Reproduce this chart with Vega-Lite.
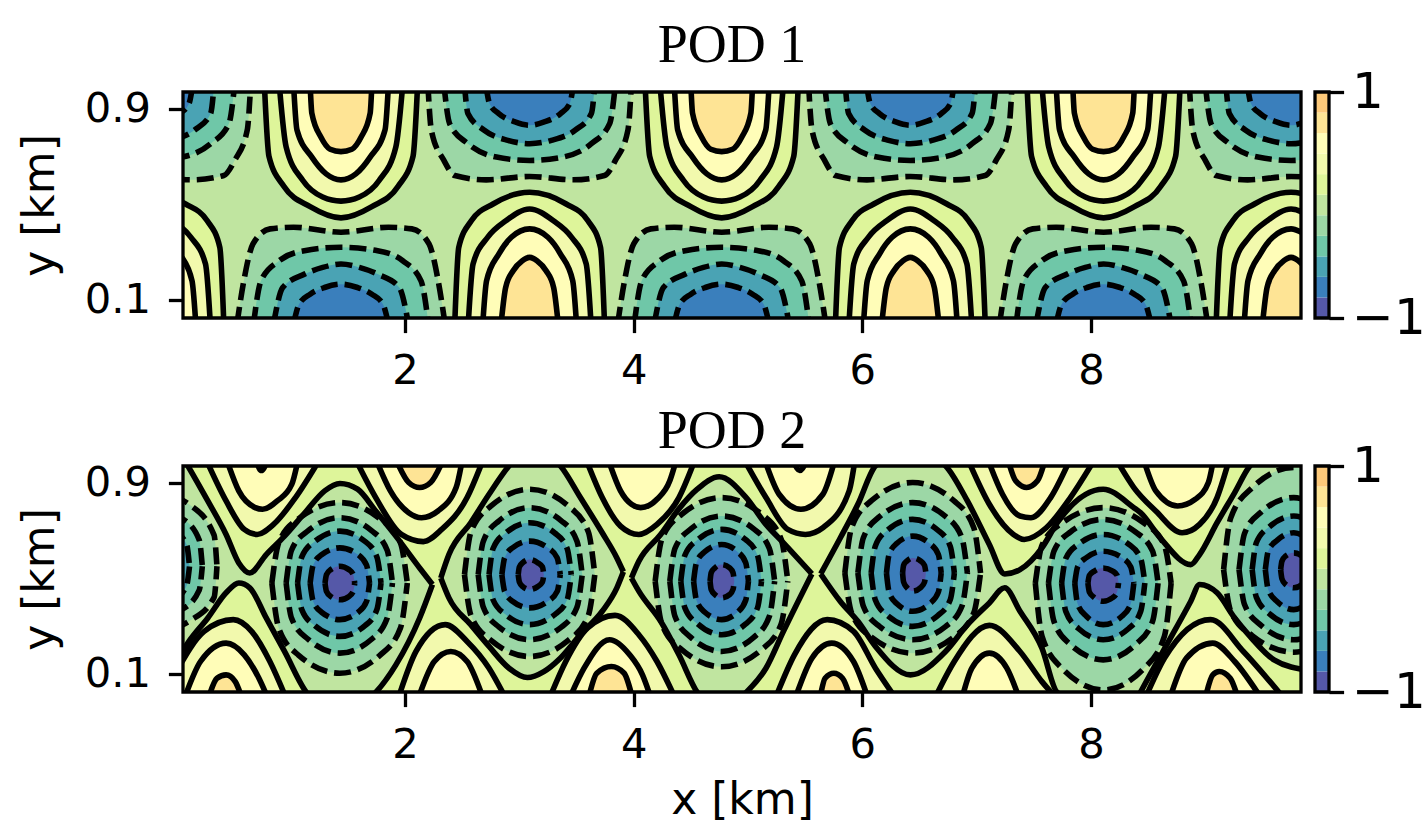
{"$schema":"https://vega.github.io/schema/vega-lite/v6.json","padding":{"left":18,"top":18,"right":0,"bottom":0},"background":"white",
"config":{"axis":{"labelFont":"DejaVu Sans","labelFontSize":41.67,"titleFont":"DejaVu Sans","titleFontSize":44,"titleFontWeight":"normal","tickSize":14.6,"tickWidth":3.3,"tickColor":"#000","labelColor":"#000","titleColor":"#000","domain":false,"grid":false,"labelPadding":18,"labelOverlap":false,"labelFlush":false},"title":{"font":"Liberation Serif","fontSize":54,"fontWeight":"normal","color":"#000"},"view":{"stroke":null}},
"datasets":{"bar":[{"v":0,"a":-1,"b":-0.818},{"v":1,"a":-0.818,"b":-0.636},{"v":2,"a":-0.636,"b":-0.455},{"v":3,"a":-0.455,"b":-0.273},{"v":4,"a":-0.273,"b":-0.091},{"v":5,"a":-0.091,"b":0.091},{"v":6,"a":0.091,"b":0.273},{"v":7,"a":0.273,"b":0.455},{"v":8,"a":0.455,"b":0.636},{"v":9,"a":0.636,"b":0.818},{"v":10,"a":0.818,"b":1}],
"limits":[{"a":0.058,"b":9.837,"c":0.0246,"d":0.969}],
"top":[
{"i":"a6","v":6,"x":0.77,"y":1,"z":1},{"i":"a6","v":6,"x":0.81,"y":0.7,"z":1},{"i":"a6","v":6,"x":0.94,"y":0.575,"z":1},{"i":"a6","v":6,"x":1.17,"y":0.49,"z":1},{"i":"a6","v":6,"x":1.44,"y":0.443,"z":1},{"i":"a6","v":6,"x":1.71,"y":0.49,"z":1},{"i":"a6","v":6,"x":1.94,"y":0.575,"z":1},{"i":"a6","v":6,"x":2.07,"y":0.7,"z":1},{"i":"a6","v":6,"x":2.11,"y":1,"z":1},
{"i":"a7","v":7,"x":0.9,"y":1,"z":1},{"i":"a7","v":7,"x":0.96,"y":0.74,"z":1},{"i":"a7","v":7,"x":1.105,"y":0.6,"z":1},{"i":"a7","v":7,"x":1.28,"y":0.53,"z":1},{"i":"a7","v":7,"x":1.44,"y":0.513,"z":1},{"i":"a7","v":7,"x":1.6,"y":0.53,"z":1},{"i":"a7","v":7,"x":1.775,"y":0.6,"z":1},{"i":"a7","v":7,"x":1.92,"y":0.74,"z":1},{"i":"a7","v":7,"x":1.98,"y":1,"z":1},
{"i":"a8","v":8,"x":1.025,"y":1,"z":1},{"i":"a8","v":8,"x":1.055,"y":0.81,"z":1},{"i":"a8","v":8,"x":1.185,"y":0.697,"z":1},{"i":"a8","v":8,"x":1.31,"y":0.627,"z":1},{"i":"a8","v":8,"x":1.44,"y":0.602,"z":1},{"i":"a8","v":8,"x":1.57,"y":0.627,"z":1},{"i":"a8","v":8,"x":1.695,"y":0.697,"z":1},{"i":"a8","v":8,"x":1.825,"y":0.81,"z":1},{"i":"a8","v":8,"x":1.855,"y":1,"z":1},
{"i":"a9","v":9,"x":1.17,"y":1,"z":1},{"i":"a9","v":9,"x":1.185,"y":0.88,"z":1},{"i":"a9","v":9,"x":1.265,"y":0.78,"z":1},{"i":"a9","v":9,"x":1.345,"y":0.73,"z":1},{"i":"a9","v":9,"x":1.44,"y":0.72,"z":1},{"i":"a9","v":9,"x":1.535,"y":0.73,"z":1},{"i":"a9","v":9,"x":1.615,"y":0.78,"z":1},{"i":"a9","v":9,"x":1.695,"y":0.88,"z":1},{"i":"a9","v":9,"x":1.71,"y":1,"z":1},
{"i":"b6","v":6,"x":4.1,"y":1,"z":1},{"i":"b6","v":6,"x":4.14,"y":0.7,"z":1},{"i":"b6","v":6,"x":4.27,"y":0.575,"z":1},{"i":"b6","v":6,"x":4.5,"y":0.49,"z":1},{"i":"b6","v":6,"x":4.77,"y":0.443,"z":1},{"i":"b6","v":6,"x":5.04,"y":0.49,"z":1},{"i":"b6","v":6,"x":5.27,"y":0.575,"z":1},{"i":"b6","v":6,"x":5.4,"y":0.7,"z":1},{"i":"b6","v":6,"x":5.44,"y":1,"z":1},
{"i":"b7","v":7,"x":4.23,"y":1,"z":1},{"i":"b7","v":7,"x":4.29,"y":0.74,"z":1},{"i":"b7","v":7,"x":4.435,"y":0.6,"z":1},{"i":"b7","v":7,"x":4.61,"y":0.53,"z":1},{"i":"b7","v":7,"x":4.77,"y":0.513,"z":1},{"i":"b7","v":7,"x":4.93,"y":0.53,"z":1},{"i":"b7","v":7,"x":5.105,"y":0.6,"z":1},{"i":"b7","v":7,"x":5.25,"y":0.74,"z":1},{"i":"b7","v":7,"x":5.31,"y":1,"z":1},
{"i":"b8","v":8,"x":4.355,"y":1,"z":1},{"i":"b8","v":8,"x":4.385,"y":0.81,"z":1},{"i":"b8","v":8,"x":4.515,"y":0.697,"z":1},{"i":"b8","v":8,"x":4.64,"y":0.627,"z":1},{"i":"b8","v":8,"x":4.77,"y":0.602,"z":1},{"i":"b8","v":8,"x":4.9,"y":0.627,"z":1},{"i":"b8","v":8,"x":5.025,"y":0.697,"z":1},{"i":"b8","v":8,"x":5.155,"y":0.81,"z":1},{"i":"b8","v":8,"x":5.185,"y":1,"z":1},
{"i":"b9","v":9,"x":4.5,"y":1,"z":1},{"i":"b9","v":9,"x":4.515,"y":0.88,"z":1},{"i":"b9","v":9,"x":4.595,"y":0.78,"z":1},{"i":"b9","v":9,"x":4.675,"y":0.73,"z":1},{"i":"b9","v":9,"x":4.77,"y":0.72,"z":1},{"i":"b9","v":9,"x":4.865,"y":0.73,"z":1},{"i":"b9","v":9,"x":4.945,"y":0.78,"z":1},{"i":"b9","v":9,"x":5.025,"y":0.88,"z":1},{"i":"b9","v":9,"x":5.04,"y":1,"z":1},
{"i":"c6","v":6,"x":7.44,"y":1,"z":1},{"i":"c6","v":6,"x":7.48,"y":0.7,"z":1},{"i":"c6","v":6,"x":7.61,"y":0.575,"z":1},{"i":"c6","v":6,"x":7.84,"y":0.49,"z":1},{"i":"c6","v":6,"x":8.11,"y":0.443,"z":1},{"i":"c6","v":6,"x":8.38,"y":0.49,"z":1},{"i":"c6","v":6,"x":8.61,"y":0.575,"z":1},{"i":"c6","v":6,"x":8.74,"y":0.7,"z":1},{"i":"c6","v":6,"x":8.78,"y":1,"z":1},
{"i":"c7","v":7,"x":7.57,"y":1,"z":1},{"i":"c7","v":7,"x":7.63,"y":0.74,"z":1},{"i":"c7","v":7,"x":7.775,"y":0.6,"z":1},{"i":"c7","v":7,"x":7.95,"y":0.53,"z":1},{"i":"c7","v":7,"x":8.11,"y":0.513,"z":1},{"i":"c7","v":7,"x":8.27,"y":0.53,"z":1},{"i":"c7","v":7,"x":8.445,"y":0.6,"z":1},{"i":"c7","v":7,"x":8.59,"y":0.74,"z":1},{"i":"c7","v":7,"x":8.65,"y":1,"z":1},
{"i":"c8","v":8,"x":7.695,"y":1,"z":1},{"i":"c8","v":8,"x":7.725,"y":0.81,"z":1},{"i":"c8","v":8,"x":7.855,"y":0.697,"z":1},{"i":"c8","v":8,"x":7.98,"y":0.627,"z":1},{"i":"c8","v":8,"x":8.11,"y":0.602,"z":1},{"i":"c8","v":8,"x":8.24,"y":0.627,"z":1},{"i":"c8","v":8,"x":8.365,"y":0.697,"z":1},{"i":"c8","v":8,"x":8.495,"y":0.81,"z":1},{"i":"c8","v":8,"x":8.525,"y":1,"z":1},
{"i":"c9","v":9,"x":7.84,"y":1,"z":1},{"i":"c9","v":9,"x":7.855,"y":0.88,"z":1},{"i":"c9","v":9,"x":7.935,"y":0.78,"z":1},{"i":"c9","v":9,"x":8.015,"y":0.73,"z":1},{"i":"c9","v":9,"x":8.11,"y":0.72,"z":1},{"i":"c9","v":9,"x":8.205,"y":0.73,"z":1},{"i":"c9","v":9,"x":8.285,"y":0.78,"z":1},{"i":"c9","v":9,"x":8.365,"y":0.88,"z":1},{"i":"c9","v":9,"x":8.38,"y":1,"z":1},
{"i":"d4","v":4,"x":-0.24,"y":0.616,"z":1},{"i":"d4","v":4,"x":0.14,"y":0.602,"z":1},{"i":"d4","v":4,"x":0.415,"y":0.62,"z":1},{"i":"d4","v":4,"x":0.51,"y":0.683,"z":1},{"i":"d4","v":4,"x":0.62,"y":0.81,"z":1},{"i":"d4","v":4,"x":0.65,"y":1,"z":1},
{"i":"d3","v":3,"x":-0.24,"y":0.683,"z":1},{"i":"d3","v":3,"x":0.05,"y":0.697,"z":1},{"i":"d3","v":3,"x":0.3,"y":0.753,"z":1},{"i":"d3","v":3,"x":0.46,"y":0.837,"z":1},{"i":"d3","v":3,"x":0.51,"y":1,"z":1},
{"i":"d2","v":2,"x":-0.24,"y":0.753,"z":1},{"i":"d2","v":2,"x":-0.05,"y":0.767,"z":1},{"i":"d2","v":2,"x":0.16,"y":0.81,"z":1},{"i":"d2","v":2,"x":0.3,"y":0.879,"z":1},{"i":"d2","v":2,"x":0.33,"y":1,"z":1},
{"i":"d1","v":1,"x":-0.24,"y":0.83,"z":1},{"i":"d1","v":1,"x":-0.112,"y":0.844,"z":1},{"i":"d1","v":1,"x":0.03,"y":0.879,"z":1},{"i":"d1","v":1,"x":0.111,"y":0.921,"z":1},{"i":"d1","v":1,"x":0.143,"y":1,"z":1},
{"i":"e4","v":4,"x":2.2,"y":1,"z":1},{"i":"e4","v":4,"x":2.23,"y":0.81,"z":1},{"i":"e4","v":4,"x":2.34,"y":0.683,"z":1},{"i":"e4","v":4,"x":2.435,"y":0.62,"z":1},{"i":"e4","v":4,"x":2.71,"y":0.602,"z":1},{"i":"e4","v":4,"x":3.09,"y":0.616,"z":1},{"i":"e4","v":4,"x":3.47,"y":0.602,"z":1},{"i":"e4","v":4,"x":3.745,"y":0.62,"z":1},{"i":"e4","v":4,"x":3.84,"y":0.683,"z":1},{"i":"e4","v":4,"x":3.95,"y":0.81,"z":1},{"i":"e4","v":4,"x":3.98,"y":1,"z":1},
{"i":"e3","v":3,"x":2.34,"y":1,"z":1},{"i":"e3","v":3,"x":2.39,"y":0.837,"z":1},{"i":"e3","v":3,"x":2.55,"y":0.753,"z":1},{"i":"e3","v":3,"x":2.8,"y":0.697,"z":1},{"i":"e3","v":3,"x":3.09,"y":0.683,"z":1},{"i":"e3","v":3,"x":3.38,"y":0.697,"z":1},{"i":"e3","v":3,"x":3.63,"y":0.753,"z":1},{"i":"e3","v":3,"x":3.79,"y":0.837,"z":1},{"i":"e3","v":3,"x":3.84,"y":1,"z":1},
{"i":"e2","v":2,"x":2.52,"y":1,"z":1},{"i":"e2","v":2,"x":2.55,"y":0.879,"z":1},{"i":"e2","v":2,"x":2.69,"y":0.81,"z":1},{"i":"e2","v":2,"x":2.9,"y":0.767,"z":1},{"i":"e2","v":2,"x":3.09,"y":0.753,"z":1},{"i":"e2","v":2,"x":3.28,"y":0.767,"z":1},{"i":"e2","v":2,"x":3.49,"y":0.81,"z":1},{"i":"e2","v":2,"x":3.63,"y":0.879,"z":1},{"i":"e2","v":2,"x":3.66,"y":1,"z":1},
{"i":"e1","v":1,"x":2.707,"y":1,"z":1},{"i":"e1","v":1,"x":2.739,"y":0.921,"z":1},{"i":"e1","v":1,"x":2.82,"y":0.879,"z":1},{"i":"e1","v":1,"x":2.962,"y":0.844,"z":1},{"i":"e1","v":1,"x":3.09,"y":0.83,"z":1},{"i":"e1","v":1,"x":3.218,"y":0.844,"z":1},{"i":"e1","v":1,"x":3.36,"y":0.879,"z":1},{"i":"e1","v":1,"x":3.441,"y":0.921,"z":1},{"i":"e1","v":1,"x":3.473,"y":1,"z":1},
{"i":"f4","v":4,"x":5.53,"y":1,"z":1},{"i":"f4","v":4,"x":5.56,"y":0.81,"z":1},{"i":"f4","v":4,"x":5.67,"y":0.683,"z":1},{"i":"f4","v":4,"x":5.765,"y":0.62,"z":1},{"i":"f4","v":4,"x":6.04,"y":0.602,"z":1},{"i":"f4","v":4,"x":6.42,"y":0.616,"z":1},{"i":"f4","v":4,"x":6.8,"y":0.602,"z":1},{"i":"f4","v":4,"x":7.075,"y":0.62,"z":1},{"i":"f4","v":4,"x":7.17,"y":0.683,"z":1},{"i":"f4","v":4,"x":7.28,"y":0.81,"z":1},{"i":"f4","v":4,"x":7.31,"y":1,"z":1},
{"i":"f3","v":3,"x":5.67,"y":1,"z":1},{"i":"f3","v":3,"x":5.72,"y":0.837,"z":1},{"i":"f3","v":3,"x":5.88,"y":0.753,"z":1},{"i":"f3","v":3,"x":6.13,"y":0.697,"z":1},{"i":"f3","v":3,"x":6.42,"y":0.683,"z":1},{"i":"f3","v":3,"x":6.71,"y":0.697,"z":1},{"i":"f3","v":3,"x":6.96,"y":0.753,"z":1},{"i":"f3","v":3,"x":7.12,"y":0.837,"z":1},{"i":"f3","v":3,"x":7.17,"y":1,"z":1},
{"i":"f2","v":2,"x":5.85,"y":1,"z":1},{"i":"f2","v":2,"x":5.88,"y":0.879,"z":1},{"i":"f2","v":2,"x":6.02,"y":0.81,"z":1},{"i":"f2","v":2,"x":6.23,"y":0.767,"z":1},{"i":"f2","v":2,"x":6.42,"y":0.753,"z":1},{"i":"f2","v":2,"x":6.61,"y":0.767,"z":1},{"i":"f2","v":2,"x":6.82,"y":0.81,"z":1},{"i":"f2","v":2,"x":6.96,"y":0.879,"z":1},{"i":"f2","v":2,"x":6.99,"y":1,"z":1},
{"i":"f1","v":1,"x":6.037,"y":1,"z":1},{"i":"f1","v":1,"x":6.069,"y":0.921,"z":1},{"i":"f1","v":1,"x":6.15,"y":0.879,"z":1},{"i":"f1","v":1,"x":6.292,"y":0.844,"z":1},{"i":"f1","v":1,"x":6.42,"y":0.83,"z":1},{"i":"f1","v":1,"x":6.548,"y":0.844,"z":1},{"i":"f1","v":1,"x":6.69,"y":0.879,"z":1},{"i":"f1","v":1,"x":6.771,"y":0.921,"z":1},{"i":"f1","v":1,"x":6.803,"y":1,"z":1},
{"i":"g4","v":4,"x":8.86,"y":1,"z":1},{"i":"g4","v":4,"x":8.89,"y":0.81,"z":1},{"i":"g4","v":4,"x":9,"y":0.683,"z":1},{"i":"g4","v":4,"x":9.095,"y":0.62,"z":1},{"i":"g4","v":4,"x":9.37,"y":0.602,"z":1},{"i":"g4","v":4,"x":9.75,"y":0.616,"z":1},{"i":"g4","v":4,"x":10.13,"y":0.602,"z":1},
{"i":"g3","v":3,"x":9,"y":1,"z":1},{"i":"g3","v":3,"x":9.05,"y":0.837,"z":1},{"i":"g3","v":3,"x":9.21,"y":0.753,"z":1},{"i":"g3","v":3,"x":9.46,"y":0.697,"z":1},{"i":"g3","v":3,"x":9.75,"y":0.683,"z":1},{"i":"g3","v":3,"x":10.04,"y":0.697,"z":1},
{"i":"g2","v":2,"x":9.18,"y":1,"z":1},{"i":"g2","v":2,"x":9.21,"y":0.879,"z":1},{"i":"g2","v":2,"x":9.35,"y":0.81,"z":1},{"i":"g2","v":2,"x":9.56,"y":0.767,"z":1},{"i":"g2","v":2,"x":9.75,"y":0.753,"z":1},{"i":"g2","v":2,"x":9.94,"y":0.767,"z":1},
{"i":"g1","v":1,"x":9.367,"y":1,"z":1},{"i":"g1","v":1,"x":9.399,"y":0.921,"z":1},{"i":"g1","v":1,"x":9.48,"y":0.879,"z":1},{"i":"g1","v":1,"x":9.622,"y":0.844,"z":1},{"i":"g1","v":1,"x":9.75,"y":0.83,"z":1},{"i":"g1","v":1,"x":9.878,"y":0.844,"z":1},
{"i":"h6","v":6,"x":-0.24,"y":0.55,"z":0},{"i":"h6","v":6,"x":0.08,"y":0.501,"z":0},{"i":"h6","v":6,"x":0.27,"y":0.431,"z":0},{"i":"h6","v":6,"x":0.38,"y":0.32,"z":0},{"i":"h6","v":6,"x":0.415,"y":0,"z":0},
{"i":"h7","v":7,"x":-0.24,"y":0.48,"z":0},{"i":"h7","v":7,"x":-0.032,"y":0.431,"z":0},{"i":"h7","v":7,"x":0.127,"y":0.362,"z":0},{"i":"h7","v":7,"x":0.255,"y":0.25,"z":0},{"i":"h7","v":7,"x":0.297,"y":0,"z":0},
{"i":"h8","v":8,"x":-0.24,"y":0.397,"z":0},{"i":"h8","v":8,"x":-0.08,"y":0.362,"z":0},{"i":"h8","v":8,"x":0.03,"y":0.292,"z":0},{"i":"h8","v":8,"x":0.137,"y":0.18,"z":0},{"i":"h8","v":8,"x":0.17,"y":0,"z":0},
{"i":"k6","v":6,"x":2.435,"y":0,"z":0},{"i":"k6","v":6,"x":2.47,"y":0.32,"z":0},{"i":"k6","v":6,"x":2.58,"y":0.431,"z":0},{"i":"k6","v":6,"x":2.77,"y":0.501,"z":0},{"i":"k6","v":6,"x":3.09,"y":0.55,"z":0},{"i":"k6","v":6,"x":3.41,"y":0.501,"z":0},{"i":"k6","v":6,"x":3.6,"y":0.431,"z":0},{"i":"k6","v":6,"x":3.71,"y":0.32,"z":0},{"i":"k6","v":6,"x":3.745,"y":0,"z":0},
{"i":"k7","v":7,"x":2.553,"y":0,"z":0},{"i":"k7","v":7,"x":2.595,"y":0.25,"z":0},{"i":"k7","v":7,"x":2.723,"y":0.362,"z":0},{"i":"k7","v":7,"x":2.882,"y":0.431,"z":0},{"i":"k7","v":7,"x":3.09,"y":0.48,"z":0},{"i":"k7","v":7,"x":3.298,"y":0.431,"z":0},{"i":"k7","v":7,"x":3.457,"y":0.362,"z":0},{"i":"k7","v":7,"x":3.585,"y":0.25,"z":0},{"i":"k7","v":7,"x":3.627,"y":0,"z":0},
{"i":"k8","v":8,"x":2.68,"y":0,"z":0},{"i":"k8","v":8,"x":2.713,"y":0.18,"z":0},{"i":"k8","v":8,"x":2.82,"y":0.292,"z":0},{"i":"k8","v":8,"x":2.93,"y":0.362,"z":0},{"i":"k8","v":8,"x":3.09,"y":0.397,"z":0},{"i":"k8","v":8,"x":3.25,"y":0.362,"z":0},{"i":"k8","v":8,"x":3.36,"y":0.292,"z":0},{"i":"k8","v":8,"x":3.467,"y":0.18,"z":0},{"i":"k8","v":8,"x":3.5,"y":0,"z":0},
{"i":"k9","v":9,"x":2.84,"y":0,"z":0},{"i":"k9","v":9,"x":2.88,"y":0.152,"z":0},{"i":"k9","v":9,"x":2.946,"y":0.222,"z":0},{"i":"k9","v":9,"x":3.026,"y":0.264,"z":0},{"i":"k9","v":9,"x":3.09,"y":0.278,"z":0},{"i":"k9","v":9,"x":3.154,"y":0.264,"z":0},{"i":"k9","v":9,"x":3.234,"y":0.222,"z":0},{"i":"k9","v":9,"x":3.3,"y":0.152,"z":0},{"i":"k9","v":9,"x":3.34,"y":0,"z":0},
{"i":"m6","v":6,"x":5.765,"y":0,"z":0},{"i":"m6","v":6,"x":5.8,"y":0.32,"z":0},{"i":"m6","v":6,"x":5.91,"y":0.431,"z":0},{"i":"m6","v":6,"x":6.1,"y":0.501,"z":0},{"i":"m6","v":6,"x":6.42,"y":0.55,"z":0},{"i":"m6","v":6,"x":6.74,"y":0.501,"z":0},{"i":"m6","v":6,"x":6.93,"y":0.431,"z":0},{"i":"m6","v":6,"x":7.04,"y":0.32,"z":0},{"i":"m6","v":6,"x":7.075,"y":0,"z":0},
{"i":"m7","v":7,"x":5.883,"y":0,"z":0},{"i":"m7","v":7,"x":5.925,"y":0.25,"z":0},{"i":"m7","v":7,"x":6.053,"y":0.362,"z":0},{"i":"m7","v":7,"x":6.212,"y":0.431,"z":0},{"i":"m7","v":7,"x":6.42,"y":0.48,"z":0},{"i":"m7","v":7,"x":6.628,"y":0.431,"z":0},{"i":"m7","v":7,"x":6.787,"y":0.362,"z":0},{"i":"m7","v":7,"x":6.915,"y":0.25,"z":0},{"i":"m7","v":7,"x":6.957,"y":0,"z":0},
{"i":"m8","v":8,"x":6.01,"y":0,"z":0},{"i":"m8","v":8,"x":6.043,"y":0.18,"z":0},{"i":"m8","v":8,"x":6.15,"y":0.292,"z":0},{"i":"m8","v":8,"x":6.26,"y":0.362,"z":0},{"i":"m8","v":8,"x":6.42,"y":0.397,"z":0},{"i":"m8","v":8,"x":6.58,"y":0.362,"z":0},{"i":"m8","v":8,"x":6.69,"y":0.292,"z":0},{"i":"m8","v":8,"x":6.797,"y":0.18,"z":0},{"i":"m8","v":8,"x":6.83,"y":0,"z":0},
{"i":"m9","v":9,"x":6.17,"y":0,"z":0},{"i":"m9","v":9,"x":6.21,"y":0.152,"z":0},{"i":"m9","v":9,"x":6.276,"y":0.222,"z":0},{"i":"m9","v":9,"x":6.356,"y":0.264,"z":0},{"i":"m9","v":9,"x":6.42,"y":0.278,"z":0},{"i":"m9","v":9,"x":6.484,"y":0.264,"z":0},{"i":"m9","v":9,"x":6.564,"y":0.222,"z":0},{"i":"m9","v":9,"x":6.63,"y":0.152,"z":0},{"i":"m9","v":9,"x":6.67,"y":0,"z":0},
{"i":"n6","v":6,"x":9.095,"y":0,"z":0},{"i":"n6","v":6,"x":9.13,"y":0.32,"z":0},{"i":"n6","v":6,"x":9.24,"y":0.431,"z":0},{"i":"n6","v":6,"x":9.43,"y":0.501,"z":0},{"i":"n6","v":6,"x":9.75,"y":0.55,"z":0},{"i":"n6","v":6,"x":10.07,"y":0.501,"z":0},
{"i":"n7","v":7,"x":9.213,"y":0,"z":0},{"i":"n7","v":7,"x":9.255,"y":0.25,"z":0},{"i":"n7","v":7,"x":9.383,"y":0.362,"z":0},{"i":"n7","v":7,"x":9.542,"y":0.431,"z":0},{"i":"n7","v":7,"x":9.75,"y":0.48,"z":0},{"i":"n7","v":7,"x":9.958,"y":0.431,"z":0},
{"i":"n8","v":8,"x":9.34,"y":0,"z":0},{"i":"n8","v":8,"x":9.373,"y":0.18,"z":0},{"i":"n8","v":8,"x":9.48,"y":0.292,"z":0},{"i":"n8","v":8,"x":9.59,"y":0.362,"z":0},{"i":"n8","v":8,"x":9.75,"y":0.397,"z":0},{"i":"n8","v":8,"x":9.91,"y":0.362,"z":0},
{"i":"n9","v":9,"x":9.5,"y":0,"z":0},{"i":"n9","v":9,"x":9.54,"y":0.152,"z":0},{"i":"n9","v":9,"x":9.606,"y":0.222,"z":0},{"i":"n9","v":9,"x":9.686,"y":0.264,"z":0},{"i":"n9","v":9,"x":9.75,"y":0.278,"z":0},{"i":"n9","v":9,"x":9.814,"y":0.264,"z":0},{"i":"n9","v":9,"x":9.894,"y":0.222,"z":0},
{"i":"p4","v":4,"x":0.53,"y":0,"z":0},{"i":"p4","v":4,"x":0.59,"y":0.18,"z":0},{"i":"p4","v":4,"x":0.67,"y":0.334,"z":0},{"i":"p4","v":4,"x":0.82,"y":0.397,"z":0},{"i":"p4","v":4,"x":1.025,"y":0.404,"z":0},{"i":"p4","v":4,"x":1.44,"y":0.383,"z":0},{"i":"p4","v":4,"x":1.855,"y":0.404,"z":0},{"i":"p4","v":4,"x":2.06,"y":0.397,"z":0},{"i":"p4","v":4,"x":2.21,"y":0.334,"z":0},{"i":"p4","v":4,"x":2.29,"y":0.18,"z":0},{"i":"p4","v":4,"x":2.35,"y":0,"z":0},
{"i":"p3","v":3,"x":0.675,"y":0,"z":0},{"i":"p3","v":3,"x":0.74,"y":0.18,"z":0},{"i":"p3","v":3,"x":0.9,"y":0.264,"z":0},{"i":"p3","v":3,"x":1.12,"y":0.306,"z":0},{"i":"p3","v":3,"x":1.44,"y":0.32,"z":0},{"i":"p3","v":3,"x":1.76,"y":0.306,"z":0},{"i":"p3","v":3,"x":1.98,"y":0.264,"z":0},{"i":"p3","v":3,"x":2.14,"y":0.18,"z":0},{"i":"p3","v":3,"x":2.205,"y":0,"z":0},
{"i":"p2","v":2,"x":0.85,"y":0,"z":0},{"i":"p2","v":2,"x":0.93,"y":0.152,"z":0},{"i":"p2","v":2,"x":1.12,"y":0.208,"z":0},{"i":"p2","v":2,"x":1.28,"y":0.236,"z":0},{"i":"p2","v":2,"x":1.44,"y":0.25,"z":0},{"i":"p2","v":2,"x":1.6,"y":0.236,"z":0},{"i":"p2","v":2,"x":1.76,"y":0.208,"z":0},{"i":"p2","v":2,"x":1.95,"y":0.152,"z":0},{"i":"p2","v":2,"x":2.03,"y":0,"z":0},
{"i":"p1","v":1,"x":1.025,"y":0,"z":0},{"i":"p1","v":1,"x":1.073,"y":0.082,"z":0},{"i":"p1","v":1,"x":1.17,"y":0.124,"z":0},{"i":"p1","v":1,"x":1.296,"y":0.152,"z":0},{"i":"p1","v":1,"x":1.44,"y":0.166,"z":0},{"i":"p1","v":1,"x":1.584,"y":0.152,"z":0},{"i":"p1","v":1,"x":1.71,"y":0.124,"z":0},{"i":"p1","v":1,"x":1.807,"y":0.082,"z":0},{"i":"p1","v":1,"x":1.855,"y":0,"z":0},
{"i":"q4","v":4,"x":3.86,"y":0,"z":0},{"i":"q4","v":4,"x":3.92,"y":0.18,"z":0},{"i":"q4","v":4,"x":4,"y":0.334,"z":0},{"i":"q4","v":4,"x":4.15,"y":0.397,"z":0},{"i":"q4","v":4,"x":4.355,"y":0.404,"z":0},{"i":"q4","v":4,"x":4.77,"y":0.383,"z":0},{"i":"q4","v":4,"x":5.185,"y":0.404,"z":0},{"i":"q4","v":4,"x":5.39,"y":0.397,"z":0},{"i":"q4","v":4,"x":5.54,"y":0.334,"z":0},{"i":"q4","v":4,"x":5.62,"y":0.18,"z":0},{"i":"q4","v":4,"x":5.68,"y":0,"z":0},
{"i":"q3","v":3,"x":4.005,"y":0,"z":0},{"i":"q3","v":3,"x":4.07,"y":0.18,"z":0},{"i":"q3","v":3,"x":4.23,"y":0.264,"z":0},{"i":"q3","v":3,"x":4.45,"y":0.306,"z":0},{"i":"q3","v":3,"x":4.77,"y":0.32,"z":0},{"i":"q3","v":3,"x":5.09,"y":0.306,"z":0},{"i":"q3","v":3,"x":5.31,"y":0.264,"z":0},{"i":"q3","v":3,"x":5.47,"y":0.18,"z":0},{"i":"q3","v":3,"x":5.535,"y":0,"z":0},
{"i":"q2","v":2,"x":4.18,"y":0,"z":0},{"i":"q2","v":2,"x":4.26,"y":0.152,"z":0},{"i":"q2","v":2,"x":4.45,"y":0.208,"z":0},{"i":"q2","v":2,"x":4.61,"y":0.236,"z":0},{"i":"q2","v":2,"x":4.77,"y":0.25,"z":0},{"i":"q2","v":2,"x":4.93,"y":0.236,"z":0},{"i":"q2","v":2,"x":5.09,"y":0.208,"z":0},{"i":"q2","v":2,"x":5.28,"y":0.152,"z":0},{"i":"q2","v":2,"x":5.36,"y":0,"z":0},
{"i":"q1","v":1,"x":4.355,"y":0,"z":0},{"i":"q1","v":1,"x":4.403,"y":0.082,"z":0},{"i":"q1","v":1,"x":4.5,"y":0.124,"z":0},{"i":"q1","v":1,"x":4.626,"y":0.152,"z":0},{"i":"q1","v":1,"x":4.77,"y":0.166,"z":0},{"i":"q1","v":1,"x":4.914,"y":0.152,"z":0},{"i":"q1","v":1,"x":5.04,"y":0.124,"z":0},{"i":"q1","v":1,"x":5.137,"y":0.082,"z":0},{"i":"q1","v":1,"x":5.185,"y":0,"z":0},
{"i":"r4","v":4,"x":7.2,"y":0,"z":0},{"i":"r4","v":4,"x":7.26,"y":0.18,"z":0},{"i":"r4","v":4,"x":7.34,"y":0.334,"z":0},{"i":"r4","v":4,"x":7.49,"y":0.397,"z":0},{"i":"r4","v":4,"x":7.695,"y":0.404,"z":0},{"i":"r4","v":4,"x":8.11,"y":0.383,"z":0},{"i":"r4","v":4,"x":8.525,"y":0.404,"z":0},{"i":"r4","v":4,"x":8.73,"y":0.397,"z":0},{"i":"r4","v":4,"x":8.88,"y":0.334,"z":0},{"i":"r4","v":4,"x":8.96,"y":0.18,"z":0},{"i":"r4","v":4,"x":9.02,"y":0,"z":0},
{"i":"r3","v":3,"x":7.345,"y":0,"z":0},{"i":"r3","v":3,"x":7.41,"y":0.18,"z":0},{"i":"r3","v":3,"x":7.57,"y":0.264,"z":0},{"i":"r3","v":3,"x":7.79,"y":0.306,"z":0},{"i":"r3","v":3,"x":8.11,"y":0.32,"z":0},{"i":"r3","v":3,"x":8.43,"y":0.306,"z":0},{"i":"r3","v":3,"x":8.65,"y":0.264,"z":0},{"i":"r3","v":3,"x":8.81,"y":0.18,"z":0},{"i":"r3","v":3,"x":8.875,"y":0,"z":0},
{"i":"r2","v":2,"x":7.52,"y":0,"z":0},{"i":"r2","v":2,"x":7.6,"y":0.152,"z":0},{"i":"r2","v":2,"x":7.79,"y":0.208,"z":0},{"i":"r2","v":2,"x":7.95,"y":0.236,"z":0},{"i":"r2","v":2,"x":8.11,"y":0.25,"z":0},{"i":"r2","v":2,"x":8.27,"y":0.236,"z":0},{"i":"r2","v":2,"x":8.43,"y":0.208,"z":0},{"i":"r2","v":2,"x":8.62,"y":0.152,"z":0},{"i":"r2","v":2,"x":8.7,"y":0,"z":0},
{"i":"r1","v":1,"x":7.695,"y":0,"z":0},{"i":"r1","v":1,"x":7.743,"y":0.082,"z":0},{"i":"r1","v":1,"x":7.84,"y":0.124,"z":0},{"i":"r1","v":1,"x":7.966,"y":0.152,"z":0},{"i":"r1","v":1,"x":8.11,"y":0.166,"z":0},{"i":"r1","v":1,"x":8.254,"y":0.152,"z":0},{"i":"r1","v":1,"x":8.38,"y":0.124,"z":0},{"i":"r1","v":1,"x":8.477,"y":0.082,"z":0},{"i":"r1","v":1,"x":8.525,"y":0,"z":0}
],
"bot":[
{"i":"gA","v":5,"x":0.0,"y":1.05,"z":0.15},{"i":"gA","v":5,"x":0.1,"y":0.97,"z":0.229},{"i":"gA","v":5,"x":0.275,"y":0.823,"z":0.334},{"i":"gA","v":5,"x":0.435,"y":0.683,"z":0.439},{"i":"gA","v":5,"x":0.546,"y":0.564,"z":0.48},{"i":"gA","v":5,"x":0.642,"y":0.522,"z":0.46},{"i":"gA","v":5,"x":0.786,"y":0.599,"z":0.334},{"i":"gA","v":5,"x":0.946,"y":0.676,"z":0.194},{"i":"gA","v":5,"x":1.137,"y":0.781,"z":0.023},{"i":"gA","v":5,"x":1.297,"y":0.865,"z":-0.04},{"i":"gA","v":5,"x":1.431,"y":0.896,"z":-0.07},{"i":"gA","v":5,"x":1.585,"y":0.872,"z":-0.04},{"i":"gA","v":5,"x":1.744,"y":0.781,"z":0.023},{"i":"gA","v":5,"x":1.92,"y":0.676,"z":0.138},{"i":"gA","v":5,"x":2.128,"y":0.543,"z":0.334},{"i":"gA","v":5,"x":2.24,"y":0.474,"z":0.474},
{"i":"gB","v":5,"x":2.313,"y":0.501,"z":0.501},{"i":"gB","v":5,"x":2.384,"y":0.599,"z":0.418},{"i":"gB","v":5,"x":2.575,"y":0.732,"z":0.306},{"i":"gB","v":5,"x":2.735,"y":0.851,"z":0.215},{"i":"gB","v":5,"x":2.91,"y":0.97,"z":0.124},{"i":"gB","v":5,"x":3.07,"y":1.047,"z":0.085},{"i":"gB","v":5,"x":3.214,"y":1.026,"z":0.11},{"i":"gB","v":5,"x":3.358,"y":0.97,"z":0.166},{"i":"gB","v":5,"x":3.534,"y":0.837,"z":0.264},{"i":"gB","v":5,"x":3.725,"y":0.69,"z":0.362},{"i":"gB","v":5,"x":3.853,"y":0.585,"z":0.46},{"i":"gB","v":5,"x":3.91,"y":0.527,"z":0.527},
{"i":"gC","v":5,"x":3.98,"y":0.501,"z":0.501},{"i":"gC","v":5,"x":4.045,"y":0.571,"z":0.446},{"i":"gC","v":5,"x":4.236,"y":0.683,"z":0.32},{"i":"gC","v":5,"x":4.396,"y":0.79,"z":0.18},{"i":"gC","v":5,"x":4.556,"y":0.872,"z":0.023},{"i":"gC","v":5,"x":4.748,"y":0.924,"z":-0.05},{"i":"gC","v":5,"x":4.984,"y":0.837,"z":0.023},{"i":"gC","v":5,"x":5.157,"y":0.725,"z":0.124},{"i":"gC","v":5,"x":5.31,"y":0.648,"z":0.278},{"i":"gC","v":5,"x":5.559,"y":0.518,"z":0.518},
{"i":"gD","v":5,"x":5.636,"y":0.518,"z":0.518},{"i":"gD","v":5,"x":5.808,"y":0.669,"z":0.403},{"i":"gD","v":5,"x":5.961,"y":0.809,"z":0.32},{"i":"gD","v":5,"x":6.115,"y":0.97,"z":0.215},{"i":"gD","v":5,"x":6.421,"y":1.047,"z":0.096},{"i":"gD","v":5,"x":6.728,"y":0.97,"z":0.194},{"i":"gD","v":5,"x":6.919,"y":0.823,"z":0.306},{"i":"gD","v":5,"x":7.111,"y":0.641,"z":0.397},{"i":"gD","v":5,"x":7.245,"y":0.518,"z":0.46},{"i":"gD","v":5,"x":7.379,"y":0.536,"z":0.362},{"i":"gD","v":5,"x":7.571,"y":0.627,"z":0.208},{"i":"gD","v":5,"x":7.705,"y":0.732,"z":0.023},{"i":"gD","v":5,"x":8.107,"y":0.872,"z":-0.05},{"i":"gD","v":5,"x":8.375,"y":0.795,"z":-0.03},{"i":"gD","v":5,"x":8.433,"y":0.774,"z":0.023},{"i":"gD","v":5,"x":8.605,"y":0.669,"z":0.173},{"i":"gD","v":5,"x":8.873,"y":0.557,"z":0.404},{"i":"gD","v":5,"x":8.95,"y":0.599,"z":0.474},{"i":"gD","v":5,"x":9.103,"y":0.732,"z":0.439},{"i":"gD","v":5,"x":9.257,"y":0.858,"z":0.334},{"i":"gD","v":5,"x":9.391,"y":0.97,"z":0.257},{"i":"gD","v":5,"x":9.601,"y":1.03,"z":0.159},{"i":"gD","v":5,"x":9.9,"y":1.03,"z":0.115},
{"i":"t17","v":7,"x":0.275,"y":0.98,"z":1},{"i":"t17","v":7,"x":0.435,"y":0.823,"z":1},{"i":"t17","v":7,"x":0.594,"y":0.704,"z":1},{"i":"t17","v":7,"x":0.706,"y":0.683,"z":1},{"i":"t17","v":7,"x":0.85,"y":0.725,"z":1},{"i":"t17","v":7,"x":1.042,"y":0.837,"z":1},{"i":"t17","v":7,"x":1.233,"y":0.98,"z":1},
{"i":"t18","v":8,"x":0.451,"y":0.98,"z":1},{"i":"t18","v":8,"x":0.546,"y":0.865,"z":1},{"i":"t18","v":8,"x":0.69,"y":0.795,"z":1},{"i":"t18","v":8,"x":0.754,"y":0.788,"z":1},{"i":"t18","v":8,"x":0.882,"y":0.823,"z":1},{"i":"t18","v":8,"x":1.01,"y":0.893,"z":1},{"i":"t18","v":8,"x":1.058,"y":0.98,"z":1},
{"i":"t19","v":9,"x":0.706,"y":0.98,"z":1},{"i":"t19","v":9,"x":0.744,"y":0.95,"z":1},{"i":"t19","v":9,"x":0.786,"y":0.98,"z":1},
{"i":"t27","v":7,"x":1.585,"y":0.98,"z":1},{"i":"t27","v":7,"x":1.744,"y":0.837,"z":1},{"i":"t27","v":7,"x":1.968,"y":0.683,"z":1},{"i":"t27","v":7,"x":2.16,"y":0.653,"z":1},{"i":"t27","v":7,"x":2.32,"y":0.704,"z":1},{"i":"t27","v":7,"x":2.543,"y":0.837,"z":1},{"i":"t27","v":7,"x":2.671,"y":0.98,"z":1},
{"i":"t28","v":8,"x":1.76,"y":0.98,"z":1},{"i":"t28","v":8,"x":1.872,"y":0.865,"z":1},{"i":"t28","v":8,"x":2.032,"y":0.774,"z":1},{"i":"t28","v":8,"x":2.144,"y":0.753,"z":1},{"i":"t28","v":8,"x":2.288,"y":0.781,"z":1},{"i":"t28","v":8,"x":2.447,"y":0.879,"z":1},{"i":"t28","v":8,"x":2.495,"y":0.98,"z":1},
{"i":"t29","v":9,"x":1.936,"y":0.98,"z":1},{"i":"t29","v":9,"x":2.032,"y":0.9,"z":1},{"i":"t29","v":9,"x":2.128,"y":0.879,"z":1},{"i":"t29","v":9,"x":2.224,"y":0.9,"z":1},{"i":"t29","v":9,"x":2.32,"y":0.98,"z":1},
{"i":"t37","v":7,"x":3.597,"y":0.98,"z":1},{"i":"t37","v":7,"x":3.725,"y":0.837,"z":1},{"i":"t37","v":7,"x":3.885,"y":0.718,"z":1},{"i":"t37","v":7,"x":4.045,"y":0.683,"z":1},{"i":"t37","v":7,"x":4.204,"y":0.725,"z":1},{"i":"t37","v":7,"x":4.396,"y":0.837,"z":1},{"i":"t37","v":7,"x":4.524,"y":0.98,"z":1},
{"i":"t38","v":8,"x":3.789,"y":0.98,"z":1},{"i":"t38","v":8,"x":3.885,"y":0.865,"z":1},{"i":"t38","v":8,"x":3.981,"y":0.809,"z":1},{"i":"t38","v":8,"x":4.061,"y":0.795,"z":1},{"i":"t38","v":8,"x":4.204,"y":0.83,"z":1},{"i":"t38","v":8,"x":4.316,"y":0.907,"z":1},{"i":"t38","v":8,"x":4.364,"y":0.98,"z":1},
{"i":"t47","v":7,"x":4.984,"y":0.98,"z":1},{"i":"t47","v":7,"x":5.157,"y":0.837,"z":1},{"i":"t47","v":7,"x":5.348,"y":0.704,"z":1},{"i":"t47","v":7,"x":5.502,"y":0.683,"z":1},{"i":"t47","v":7,"x":5.655,"y":0.711,"z":1},{"i":"t47","v":7,"x":5.885,"y":0.865,"z":1},{"i":"t47","v":7,"x":5.931,"y":0.98,"z":1},
{"i":"t48","v":8,"x":5.157,"y":0.98,"z":1},{"i":"t48","v":8,"x":5.272,"y":0.851,"z":1},{"i":"t48","v":8,"x":5.463,"y":0.788,"z":1},{"i":"t48","v":8,"x":5.655,"y":0.851,"z":1},{"i":"t48","v":8,"x":5.751,"y":0.98,"z":1},
{"i":"t49","v":9,"x":5.406,"y":0.98,"z":1},{"i":"t49","v":9,"x":5.452,"y":0.95,"z":1},{"i":"t49","v":9,"x":5.502,"y":0.98,"z":1},
{"i":"t57","v":7,"x":6.938,"y":0.98,"z":1},{"i":"t57","v":7,"x":7.111,"y":0.809,"z":1},{"i":"t57","v":7,"x":7.322,"y":0.683,"z":1},{"i":"t57","v":7,"x":7.417,"y":0.662,"z":1},{"i":"t57","v":7,"x":7.609,"y":0.711,"z":1},{"i":"t57","v":7,"x":7.82,"y":0.837,"z":1},{"i":"t57","v":7,"x":8.011,"y":0.98,"z":1},
{"i":"t58","v":8,"x":7.111,"y":0.98,"z":1},{"i":"t58","v":8,"x":7.226,"y":0.851,"z":1},{"i":"t58","v":8,"x":7.379,"y":0.76,"z":1},{"i":"t58","v":8,"x":7.475,"y":0.753,"z":1},{"i":"t58","v":8,"x":7.647,"y":0.837,"z":1},{"i":"t58","v":8,"x":7.801,"y":0.98,"z":1},
{"i":"t59","v":9,"x":7.283,"y":0.98,"z":1},{"i":"t59","v":9,"x":7.341,"y":0.907,"z":1},{"i":"t59","v":9,"x":7.437,"y":0.879,"z":1},{"i":"t59","v":9,"x":7.532,"y":0.907,"z":1},{"i":"t59","v":9,"x":7.59,"y":0.98,"z":1},
{"i":"t67","v":7,"x":8.241,"y":0.98,"z":1},{"i":"t67","v":7,"x":8.375,"y":0.879,"z":1},{"i":"t67","v":7,"x":8.567,"y":0.781,"z":1},{"i":"t67","v":7,"x":8.797,"y":0.69,"z":1},{"i":"t67","v":7,"x":8.95,"y":0.725,"z":1},{"i":"t67","v":7,"x":9.103,"y":0.837,"z":1},{"i":"t67","v":7,"x":9.199,"y":0.98,"z":1},
{"i":"t68","v":8,"x":8.471,"y":0.98,"z":1},{"i":"t68","v":8,"x":8.567,"y":0.865,"z":1},{"i":"t68","v":8,"x":8.758,"y":0.802,"z":1},{"i":"t68","v":8,"x":8.912,"y":0.83,"z":1},{"i":"t68","v":8,"x":9.027,"y":0.9,"z":1},{"i":"t68","v":8,"x":9.065,"y":0.98,"z":1},
{"i":"u17","v":7,"x":0.0,"y":0.11,"z":0},{"i":"u17","v":7,"x":0.243,"y":0.278,"z":0},{"i":"u17","v":7,"x":0.498,"y":0.327,"z":0},{"i":"u17","v":7,"x":0.658,"y":0.278,"z":0},{"i":"u17","v":7,"x":0.818,"y":0.152,"z":0},{"i":"u17","v":7,"x":0.946,"y":0.015,"z":0},
{"i":"u18","v":8,"x":0.083,"y":0.015,"z":0},{"i":"u18","v":8,"x":0.211,"y":0.152,"z":0},{"i":"u18","v":8,"x":0.435,"y":0.229,"z":0},{"i":"u18","v":8,"x":0.594,"y":0.18,"z":0},{"i":"u18","v":8,"x":0.722,"y":0.082,"z":0},{"i":"u18","v":8,"x":0.786,"y":0.015,"z":0},
{"i":"u19","v":9,"x":0.291,"y":0.015,"z":0},{"i":"u19","v":9,"x":0.355,"y":0.082,"z":0},{"i":"u19","v":9,"x":0.435,"y":0.096,"z":0},{"i":"u19","v":9,"x":0.515,"y":0.068,"z":0},{"i":"u19","v":9,"x":0.562,"y":0.015,"z":0},
{"i":"u27","v":7,"x":1.952,"y":0.015,"z":0},{"i":"u27","v":7,"x":2.096,"y":0.194,"z":0},{"i":"u27","v":7,"x":2.352,"y":0.306,"z":0},{"i":"u27","v":7,"x":2.543,"y":0.236,"z":0},{"i":"u27","v":7,"x":2.735,"y":0.124,"z":0},{"i":"u27","v":7,"x":2.863,"y":0.015,"z":0},
{"i":"u28","v":8,"x":2.128,"y":0.015,"z":0},{"i":"u28","v":8,"x":2.256,"y":0.152,"z":0},{"i":"u28","v":8,"x":2.4,"y":0.194,"z":0},{"i":"u28","v":8,"x":2.543,"y":0.152,"z":0},{"i":"u28","v":8,"x":2.671,"y":0.015,"z":0},
{"i":"u37","v":7,"x":3.278,"y":0.015,"z":0},{"i":"u37","v":7,"x":3.406,"y":0.152,"z":0},{"i":"u37","v":7,"x":3.597,"y":0.292,"z":0},{"i":"u37","v":7,"x":3.837,"y":0.345,"z":0},{"i":"u37","v":7,"x":4.045,"y":0.264,"z":0},{"i":"u37","v":7,"x":4.204,"y":0.152,"z":0},{"i":"u37","v":7,"x":4.348,"y":0.015,"z":0},
{"i":"u38","v":8,"x":3.454,"y":0.015,"z":0},{"i":"u38","v":8,"x":3.566,"y":0.124,"z":0},{"i":"u38","v":8,"x":3.789,"y":0.243,"z":0},{"i":"u38","v":8,"x":3.965,"y":0.18,"z":0},{"i":"u38","v":8,"x":4.077,"y":0.096,"z":0},{"i":"u38","v":8,"x":4.14,"y":0.015,"z":0},
{"i":"u39","v":9,"x":3.613,"y":0.015,"z":0},{"i":"u39","v":9,"x":3.677,"y":0.103,"z":0},{"i":"u39","v":9,"x":3.805,"y":0.131,"z":0},{"i":"u39","v":9,"x":3.917,"y":0.103,"z":0},{"i":"u39","v":9,"x":3.981,"y":0.015,"z":0},
{"i":"u47","v":7,"x":5.253,"y":0.015,"z":0},{"i":"u47","v":7,"x":5.406,"y":0.18,"z":0},{"i":"u47","v":7,"x":5.693,"y":0.327,"z":0},{"i":"u47","v":7,"x":5.923,"y":0.278,"z":0},{"i":"u47","v":7,"x":6.115,"y":0.124,"z":0},{"i":"u47","v":7,"x":6.268,"y":0.015,"z":0},
{"i":"u48","v":8,"x":5.425,"y":0.015,"z":0},{"i":"u48","v":8,"x":5.559,"y":0.166,"z":0},{"i":"u48","v":8,"x":5.732,"y":0.229,"z":0},{"i":"u48","v":8,"x":5.923,"y":0.152,"z":0},{"i":"u48","v":8,"x":6.038,"y":0.015,"z":0},
{"i":"u49","v":9,"x":5.636,"y":0.015,"z":0},{"i":"u49","v":9,"x":5.674,"y":0.082,"z":0},{"i":"u49","v":9,"x":5.751,"y":0.103,"z":0},{"i":"u49","v":9,"x":5.827,"y":0.082,"z":0},{"i":"u49","v":9,"x":5.885,"y":0.015,"z":0},
{"i":"u57","v":7,"x":6.651,"y":0.015,"z":0},{"i":"u57","v":7,"x":6.804,"y":0.152,"z":0},{"i":"u57","v":7,"x":7.111,"y":0.303,"z":0},{"i":"u57","v":7,"x":7.379,"y":0.194,"z":0},{"i":"u57","v":7,"x":7.571,"y":0.068,"z":0},{"i":"u57","v":7,"x":7.666,"y":0.015,"z":0},
{"i":"u58","v":8,"x":6.881,"y":0.015,"z":0},{"i":"u58","v":8,"x":6.958,"y":0.124,"z":0},{"i":"u58","v":8,"x":7.111,"y":0.187,"z":0},{"i":"u58","v":8,"x":7.264,"y":0.124,"z":0},{"i":"u58","v":8,"x":7.36,"y":0.015,"z":0},
{"i":"u67","v":7,"x":8.49,"y":0.015,"z":0},{"i":"u67","v":7,"x":8.643,"y":0.166,"z":0},{"i":"u67","v":7,"x":9.046,"y":0.327,"z":0},{"i":"u67","v":7,"x":9.333,"y":0.194,"z":0},{"i":"u67","v":7,"x":9.659,"y":0.015,"z":0},
{"i":"u68","v":8,"x":8.701,"y":0.015,"z":0},{"i":"u68","v":8,"x":8.835,"y":0.166,"z":0},{"i":"u68","v":8,"x":9.065,"y":0.229,"z":0},{"i":"u68","v":8,"x":9.257,"y":0.152,"z":0},{"i":"u68","v":8,"x":9.467,"y":0.015,"z":0},
{"i":"u69","v":9,"x":9.008,"y":0.015,"z":0},{"i":"u69","v":9,"x":9.065,"y":0.096,"z":0},{"i":"u69","v":9,"x":9.122,"y":0.11,"z":0},{"i":"u69","v":9,"x":9.218,"y":0.082,"z":0},{"i":"u69","v":9,"x":9.276,"y":0.015,"z":0},
{"i":"D04","v":4,"x":-0.24,"y":0.87,"z":0.266},{"i":"D04","v":4,"x":0.12,"y":0.806,"z":0.323},{"i":"D04","v":4,"x":0.33,"y":0.68,"z":0.42},{"i":"D04","v":4,"x":0.355,"y":0.55,"z":0.55},
{"i":"D03","v":3,"x":-0.24,"y":0.8,"z":0.33},{"i":"D03","v":3,"x":0.05,"y":0.75,"z":0.37},{"i":"D03","v":3,"x":0.2,"y":0.66,"z":0.45},{"i":"D03","v":3,"x":0.227,"y":0.55,"z":0.55},
{"i":"D02","v":2,"x":-0.24,"y":0.74,"z":0.38},{"i":"D02","v":2,"x":-0.02,"y":0.7,"z":0.41},{"i":"D02","v":2,"x":0.09,"y":0.64,"z":0.47},{"i":"D02","v":2,"x":0.115,"y":0.55,"z":0.55},
{"i":"D14","v":4,"x":0.835,"y":0.48,"z":0.48},{"i":"D14","v":4,"x":0.895,"y":0.648,"z":0.292},{"i":"D14","v":4,"x":1.07,"y":0.749,"z":0.178},{"i":"D14","v":4,"x":1.43,"y":0.816,"z":0.103},{"i":"D14","v":4,"x":1.78,"y":0.749,"z":0.178},{"i":"D14","v":4,"x":1.96,"y":0.648,"z":0.292},{"i":"D14","v":4,"x":2.02,"y":0.48,"z":0.48},
{"i":"D13","v":3,"x":0.96,"y":0.48,"z":0.48},{"i":"D13","v":3,"x":1.007,"y":0.617,"z":0.334},{"i":"D13","v":3,"x":1.15,"y":0.698,"z":0.246},{"i":"D13","v":3,"x":1.43,"y":0.753,"z":0.187},{"i":"D13","v":3,"x":1.71,"y":0.698,"z":0.246},{"i":"D13","v":3,"x":1.844,"y":0.617,"z":0.334},{"i":"D13","v":3,"x":1.89,"y":0.48,"z":0.48},
{"i":"D12","v":2,"x":1.06,"y":0.48,"z":0.48},{"i":"D12","v":2,"x":1.097,"y":0.589,"z":0.369},{"i":"D12","v":2,"x":1.21,"y":0.654,"z":0.302},{"i":"D12","v":2,"x":1.43,"y":0.697,"z":0.257},{"i":"D12","v":2,"x":1.65,"y":0.654,"z":0.302},{"i":"D12","v":2,"x":1.754,"y":0.589,"z":0.369},{"i":"D12","v":2,"x":1.79,"y":0.48,"z":0.48},
{"i":"D11","v":1,"x":1.17,"y":0.48,"z":0.48},{"i":"D11","v":1,"x":1.196,"y":0.554,"z":0.404},{"i":"D11","v":1,"x":1.27,"y":0.598,"z":0.358},{"i":"D11","v":1,"x":1.43,"y":0.627,"z":0.327},{"i":"D11","v":1,"x":1.59,"y":0.598,"z":0.358},{"i":"D11","v":1,"x":1.664,"y":0.554,"z":0.404},{"i":"D11","v":1,"x":1.69,"y":0.48,"z":0.48},
{"i":"D10","v":0,"x":1.3,"y":0.48,"z":0.48},{"i":"D10","v":0,"x":1.313,"y":0.515,"z":0.445},{"i":"D10","v":0,"x":1.35,"y":0.536,"z":0.424},{"i":"D10","v":0,"x":1.43,"y":0.55,"z":0.41},{"i":"D10","v":0,"x":1.51,"y":0.536,"z":0.424},{"i":"D10","v":0,"x":1.547,"y":0.515,"z":0.445},{"i":"D10","v":0,"x":1.56,"y":0.48,"z":0.48},
{"i":"D24","v":4,"x":2.52,"y":0.515,"z":0.515},{"i":"D24","v":4,"x":2.577,"y":0.694,"z":0.344},{"i":"D24","v":4,"x":2.75,"y":0.801,"z":0.241},{"i":"D24","v":4,"x":3.09,"y":0.872,"z":0.173},{"i":"D24","v":4,"x":3.43,"y":0.801,"z":0.241},{"i":"D24","v":4,"x":3.603,"y":0.694,"z":0.344},{"i":"D24","v":4,"x":3.66,"y":0.515,"z":0.515},
{"i":"D23","v":3,"x":2.64,"y":0.515,"z":0.515},{"i":"D23","v":3,"x":2.685,"y":0.655,"z":0.379},{"i":"D23","v":3,"x":2.82,"y":0.739,"z":0.297},{"i":"D23","v":3,"x":3.09,"y":0.795,"z":0.243},{"i":"D23","v":3,"x":3.37,"y":0.739,"z":0.297},{"i":"D23","v":3,"x":3.504,"y":0.655,"z":0.379},{"i":"D23","v":3,"x":3.55,"y":0.515,"z":0.515},
{"i":"D22","v":2,"x":2.735,"y":0.515,"z":0.515},{"i":"D22","v":2,"x":2.77,"y":0.624,"z":0.41},{"i":"D22","v":2,"x":2.88,"y":0.689,"z":0.348},{"i":"D22","v":2,"x":3.09,"y":0.732,"z":0.306},{"i":"D22","v":2,"x":3.31,"y":0.689,"z":0.348},{"i":"D22","v":2,"x":3.418,"y":0.624,"z":0.41},{"i":"D22","v":2,"x":3.454,"y":0.515,"z":0.515},
{"i":"D21","v":1,"x":2.847,"y":0.515,"z":0.515},{"i":"D21","v":1,"x":2.871,"y":0.585,"z":0.445},{"i":"D21","v":1,"x":2.94,"y":0.627,"z":0.404},{"i":"D21","v":1,"x":3.09,"y":0.655,"z":0.376},{"i":"D21","v":1,"x":3.25,"y":0.627,"z":0.404},{"i":"D21","v":1,"x":3.331,"y":0.585,"z":0.445},{"i":"D21","v":1,"x":3.358,"y":0.515,"z":0.515},
{"i":"D20","v":0,"x":2.99,"y":0.515,"z":0.515},{"i":"D20","v":0,"x":3,"y":0.547,"z":0.484},{"i":"D20","v":0,"x":3.03,"y":0.565,"z":0.465},{"i":"D20","v":0,"x":3.09,"y":0.578,"z":0.453},{"i":"D20","v":0,"x":3.16,"y":0.565,"z":0.465},{"i":"D20","v":0,"x":3.202,"y":0.547,"z":0.484},{"i":"D20","v":0,"x":3.214,"y":0.515,"z":0.515},
{"i":"D34","v":4,"x":4.188,"y":0.488,"z":0.488},{"i":"D34","v":4,"x":4.246,"y":0.663,"z":0.309},{"i":"D34","v":4,"x":4.42,"y":0.767,"z":0.202},{"i":"D34","v":4,"x":4.77,"y":0.837,"z":0.13},{"i":"D34","v":4,"x":5.12,"y":0.767,"z":0.202},{"i":"D34","v":4,"x":5.29,"y":0.663,"z":0.309},{"i":"D34","v":4,"x":5.348,"y":0.488,"z":0.488},
{"i":"D33","v":3,"x":4.316,"y":0.488,"z":0.488},{"i":"D33","v":3,"x":4.361,"y":0.624,"z":0.341},{"i":"D33","v":3,"x":4.5,"y":0.706,"z":0.253},{"i":"D33","v":3,"x":4.77,"y":0.76,"z":0.194},{"i":"D33","v":3,"x":5.05,"y":0.706,"z":0.253},{"i":"D33","v":3,"x":5.187,"y":0.624,"z":0.341},{"i":"D33","v":3,"x":5.233,"y":0.488,"z":0.488},
{"i":"D32","v":2,"x":4.412,"y":0.488,"z":0.488},{"i":"D32","v":2,"x":4.448,"y":0.596,"z":0.376},{"i":"D32","v":2,"x":4.56,"y":0.661,"z":0.309},{"i":"D32","v":2,"x":4.77,"y":0.704,"z":0.264},{"i":"D32","v":2,"x":4.98,"y":0.661,"z":0.309},{"i":"D32","v":2,"x":5.083,"y":0.596,"z":0.376},{"i":"D32","v":2,"x":5.118,"y":0.488,"z":0.488},
{"i":"D31","v":1,"x":4.524,"y":0.488,"z":0.488},{"i":"D31","v":1,"x":4.549,"y":0.565,"z":0.408},{"i":"D31","v":1,"x":4.62,"y":0.61,"z":0.359},{"i":"D31","v":1,"x":4.77,"y":0.641,"z":0.327},{"i":"D31","v":1,"x":4.91,"y":0.61,"z":0.359},{"i":"D31","v":1,"x":4.98,"y":0.565,"z":0.408},{"i":"D31","v":1,"x":5.004,"y":0.488,"z":0.488},
{"i":"D30","v":0,"x":4.668,"y":0.488,"z":0.488},{"i":"D30","v":0,"x":4.678,"y":0.523,"z":0.453},{"i":"D30","v":0,"x":4.71,"y":0.543,"z":0.432},{"i":"D30","v":0,"x":4.77,"y":0.557,"z":0.418},{"i":"D30","v":0,"x":4.84,"y":0.543,"z":0.432},{"i":"D30","v":0,"x":4.869,"y":0.523,"z":0.453},{"i":"D30","v":0,"x":4.88,"y":0.488,"z":0.488},
{"i":"D44","v":4,"x":5.847,"y":0.522,"z":0.522},{"i":"D44","v":4,"x":5.906,"y":0.711,"z":0.355},{"i":"D44","v":4,"x":6.08,"y":0.824,"z":0.254},{"i":"D44","v":4,"x":6.44,"y":0.9,"z":0.187},{"i":"D44","v":4,"x":6.8,"y":0.824,"z":0.254},{"i":"D44","v":4,"x":6.975,"y":0.711,"z":0.355},{"i":"D44","v":4,"x":7.034,"y":0.522,"z":0.522},
{"i":"D43","v":3,"x":5.961,"y":0.522,"z":0.522},{"i":"D43","v":3,"x":6.009,"y":0.669,"z":0.383},{"i":"D43","v":3,"x":6.15,"y":0.757,"z":0.299},{"i":"D43","v":3,"x":6.44,"y":0.816,"z":0.243},{"i":"D43","v":3,"x":6.73,"y":0.757,"z":0.299},{"i":"D43","v":3,"x":6.871,"y":0.669,"z":0.383},{"i":"D43","v":3,"x":6.919,"y":0.522,"z":0.522},
{"i":"D42","v":2,"x":6.077,"y":0.522,"z":0.522},{"i":"D42","v":2,"x":6.113,"y":0.634,"z":0.41},{"i":"D42","v":2,"x":6.22,"y":0.701,"z":0.344},{"i":"D42","v":2,"x":6.44,"y":0.746,"z":0.299},{"i":"D42","v":2,"x":6.66,"y":0.701,"z":0.344},{"i":"D42","v":2,"x":6.769,"y":0.634,"z":0.41},{"i":"D42","v":2,"x":6.805,"y":0.522,"z":0.522},
{"i":"D41","v":1,"x":6.211,"y":0.522,"z":0.522},{"i":"D41","v":1,"x":6.234,"y":0.599,"z":0.442},{"i":"D41","v":1,"x":6.3,"y":0.645,"z":0.394},{"i":"D41","v":1,"x":6.44,"y":0.676,"z":0.362},{"i":"D41","v":1,"x":6.59,"y":0.645,"z":0.394},{"i":"D41","v":1,"x":6.665,"y":0.599,"z":0.442},{"i":"D41","v":1,"x":6.69,"y":0.522,"z":0.522},
{"i":"D40","v":0,"x":6.352,"y":0.522,"z":0.522},{"i":"D40","v":0,"x":6.361,"y":0.554,"z":0.484},{"i":"D40","v":0,"x":6.39,"y":0.572,"z":0.461},{"i":"D40","v":0,"x":6.44,"y":0.585,"z":0.446},{"i":"D40","v":0,"x":6.51,"y":0.572,"z":0.461},{"i":"D40","v":0,"x":6.544,"y":0.554,"z":0.484},{"i":"D40","v":0,"x":6.556,"y":0.522,"z":0.522},
{"i":"D54","v":4,"x":7.513,"y":0.48,"z":0.48},{"i":"D54","v":4,"x":7.572,"y":0.638,"z":0.257},{"i":"D54","v":4,"x":7.75,"y":0.732,"z":0.122},{"i":"D54","v":4,"x":8.107,"y":0.795,"z":0.033},{"i":"D54","v":4,"x":8.46,"y":0.732,"z":0.122},{"i":"D54","v":4,"x":8.642,"y":0.638,"z":0.257},{"i":"D54","v":4,"x":8.701,"y":0.48,"z":0.48},
{"i":"D53","v":3,"x":7.628,"y":0.48,"z":0.48},{"i":"D53","v":3,"x":7.676,"y":0.613,"z":0.32},{"i":"D53","v":3,"x":7.82,"y":0.693,"z":0.223},{"i":"D53","v":3,"x":8.107,"y":0.746,"z":0.159},{"i":"D53","v":3,"x":8.39,"y":0.693,"z":0.223},{"i":"D53","v":3,"x":8.539,"y":0.613,"z":0.32},{"i":"D53","v":3,"x":8.587,"y":0.48,"z":0.48},
{"i":"D52","v":2,"x":7.743,"y":0.48,"z":0.48},{"i":"D52","v":2,"x":7.779,"y":0.582,"z":0.362},{"i":"D52","v":2,"x":7.89,"y":0.642,"z":0.29},{"i":"D52","v":2,"x":8.107,"y":0.683,"z":0.243},{"i":"D52","v":2,"x":8.33,"y":0.642,"z":0.29},{"i":"D52","v":2,"x":8.435,"y":0.582,"z":0.362},{"i":"D52","v":2,"x":8.471,"y":0.48,"z":0.48},
{"i":"D51","v":1,"x":7.858,"y":0.48,"z":0.48},{"i":"D51","v":1,"x":7.883,"y":0.547,"z":0.393},{"i":"D51","v":1,"x":7.96,"y":0.586,"z":0.341},{"i":"D51","v":1,"x":8.107,"y":0.613,"z":0.306},{"i":"D51","v":1,"x":8.27,"y":0.586,"z":0.341},{"i":"D51","v":1,"x":8.348,"y":0.547,"z":0.393},{"i":"D51","v":1,"x":8.375,"y":0.48,"z":0.48},
{"i":"D50","v":0,"x":7.973,"y":0.48,"z":0.48},{"i":"D50","v":0,"x":7.986,"y":0.512,"z":0.442},{"i":"D50","v":0,"x":8.03,"y":0.53,"z":0.419},{"i":"D50","v":0,"x":8.107,"y":0.543,"z":0.404},{"i":"D50","v":0,"x":8.19,"y":0.53,"z":0.419},{"i":"D50","v":0,"x":8.228,"y":0.512,"z":0.442},{"i":"D50","v":0,"x":8.241,"y":0.48,"z":0.48},
{"i":"D64","v":4,"x":9.16,"y":0.536,"z":0.536},{"i":"D64","v":4,"x":9.221,"y":0.75,"z":0.364},{"i":"D64","v":4,"x":9.41,"y":0.878,"z":0.26},{"i":"D64","v":4,"x":9.774,"y":0.963,"z":0.191},{"i":"D64","v":4,"x":10.14,"y":0.878,"z":0.26},
{"i":"D63","v":3,"x":9.295,"y":0.536,"z":0.536},{"i":"D63","v":3,"x":9.343,"y":0.687,"z":0.39},{"i":"D63","v":3,"x":9.49,"y":0.777,"z":0.302},{"i":"D63","v":3,"x":9.774,"y":0.837,"z":0.243},{"i":"D63","v":3,"x":10.06,"y":0.777,"z":0.302},
{"i":"D62","v":2,"x":9.41,"y":0.536,"z":0.536},{"i":"D62","v":2,"x":9.446,"y":0.648,"z":0.421},{"i":"D62","v":2,"x":9.56,"y":0.715,"z":0.352},{"i":"D62","v":2,"x":9.774,"y":0.76,"z":0.306},{"i":"D62","v":2,"x":9.99,"y":0.715,"z":0.352},
{"i":"D61","v":1,"x":9.525,"y":0.536,"z":0.536},{"i":"D61","v":1,"x":9.55,"y":0.613,"z":0.453},{"i":"D61","v":1,"x":9.63,"y":0.659,"z":0.402},{"i":"D61","v":1,"x":9.774,"y":0.69,"z":0.369},{"i":"D61","v":1,"x":9.92,"y":0.659,"z":0.402},
{"i":"D60","v":0,"x":9.659,"y":0.536,"z":0.536},{"i":"D60","v":0,"x":9.67,"y":0.571,"z":0.498},{"i":"D60","v":0,"x":9.7,"y":0.592,"z":0.475},{"i":"D60","v":0,"x":9.774,"y":0.606,"z":0.46},{"i":"D60","v":0,"x":9.85,"y":0.592,"z":0.475},{"i":"D60","v":0,"x":9.889,"y":0.536,"z":0.536}
]},
"vconcat":[
{"hconcat":[
{"title":{"text":"POD 1","offset":16,"dx":-10},"width":1118,"height":226,"data":{"name":"top"},"view":{"fill":"#c0e5a0","stroke":null},
"encoding":{"x":{"field":"x","type":"quantitative","title":null,"scale":{"domain":[0.058,9.837],"nice":false,"zero":false},"axis":{"values":[2,4,6,8],"format":"d"}},"y":{"field":"y","type":"quantitative","title":"y [km]","scale":{"domain":[0.0246,0.969],"nice":false,"zero":false},"axis":{"values":[0.1,0.9],"format":".1f","titlePadding":22}}},
"layer":[
{"mark":{"type":"area","clip":true,"interpolate":"monotone"},"encoding":{"y2":{"field":"z"},"color":{"field":"v","type":"nominal","legend":null,"scale":{"domain":[0,1,2,3,4,5,6,7,8,9,10],"range":["#5558a8","#3a7fbc","#4aa3b4","#6fc7a8","#9cd7a6","#c0e5a0","#def59a","#f2f9ad","#fffdb8","#fee495","#fdc97a"]}},"detail":{"field":"i"}}},
{"transform":[{"filter":"datum.v>=5"}],"mark":{"type":"line","clip":true,"interpolate":"monotone","color":"#000","strokeWidth":5.6},"encoding":{"detail":{"field":"i"}}},
{"transform":[{"filter":"datum.v<5"}],"mark":{"type":"line","clip":true,"interpolate":"monotone","color":"#000","strokeWidth":5.6,"strokeDash":[17,7]},"encoding":{"detail":{"field":"i"}}},
{"data":{"name":"limits"},"mark":{"type":"rect","filled":false,"stroke":"#000","strokeWidth":3.3},"encoding":{"x":{"field":"a","type":"quantitative","title":null},"x2":{"field":"b"},"y":{"field":"c","type":"quantitative","title":"y [km]"},"y2":{"field":"d"}}}
]},
{"width":14,"height":226,"data":{"name":"bar"},
"layer":[
{"mark":{"type":"rect"},"encoding":{"y":{"field":"a","type":"quantitative","title":null,"scale":{"domain":[-1,1],"nice":false},"axis":{"values":[-1,0,1],"orient":"right","format":"d","labelFontSize":50,"labelPadding":8}},"y2":{"field":"b"},"color":{"field":"v","type":"nominal","legend":null,"scale":{"domain":[0,1,2,3,4,5,6,7,8,9,10],"range":["#5558a8","#3a7fbc","#4aa3b4","#6fc7a8","#9cd7a6","#c0e5a0","#def59a","#f2f9ad","#fffdb8","#fee495","#fdc97a"]}}}},
{"data":{"values":[{}]},"mark":{"type":"rect","filled":false,"stroke":"#000","strokeWidth":3.3},"encoding":{"y":{"datum":-1,"type":"quantitative"},"y2":{"datum":1}}}
]}
],"spacing":10},
{"hconcat":[
{"title":{"text":"POD 2","offset":4,"dx":-10},"width":1118,"height":226,"data":{"name":"bot"},"view":{"fill":"#def59a","stroke":null},
"encoding":{"x":{"field":"x","type":"quantitative","title":"x [km]","scale":{"domain":[0.058,9.837],"nice":false,"zero":false},"axis":{"values":[2,4,6,8],"format":"d","titlePadding":12}},"y":{"field":"y","type":"quantitative","title":"y [km]","scale":{"domain":[0.0246,0.969],"nice":false,"zero":false},"axis":{"values":[0.1,0.9],"format":".1f","titlePadding":22}}},
"layer":[
{"mark":{"type":"area","clip":true,"interpolate":"monotone"},"encoding":{"y2":{"field":"z"},"color":{"field":"v","type":"nominal","legend":null,"scale":{"domain":[0,1,2,3,4,5,6,7,8,9,10],"range":["#5558a8","#3a7fbc","#4aa3b4","#6fc7a8","#9cd7a6","#c0e5a0","#def59a","#f2f9ad","#fffdb8","#fee495","#fdc97a"]}},"detail":{"field":"i"}}},
{"transform":[{"filter":"datum.v>=5"}],"mark":{"type":"line","clip":true,"interpolate":"monotone","color":"#000","strokeWidth":5.6},"encoding":{"detail":{"field":"i"}}},
{"transform":[{"filter":"datum.v<5"}],"mark":{"type":"line","clip":true,"interpolate":"monotone","color":"#000","strokeWidth":5.6,"strokeDash":[17,7]},"encoding":{"detail":{"field":"i"}}},
{"transform":[{"filter":"datum.v>=5&&datum.z!=0&&datum.z!=1"}],"mark":{"type":"line","clip":true,"interpolate":"monotone","color":"#000","strokeWidth":5.6},"encoding":{"y":{"field":"z","type":"quantitative","title":"y [km]"},"detail":{"field":"i"}}},
{"transform":[{"filter":"datum.v<5&&datum.z!=0&&datum.z!=1"}],"mark":{"type":"line","clip":true,"interpolate":"monotone","color":"#000","strokeWidth":5.6,"strokeDash":[17,7]},"encoding":{"y":{"field":"z","type":"quantitative","title":"y [km]"},"detail":{"field":"i"}}},
{"data":{"name":"limits"},"mark":{"type":"rect","filled":false,"stroke":"#000","strokeWidth":3.3},"encoding":{"x":{"field":"a","type":"quantitative","title":"x [km]"},"x2":{"field":"b"},"y":{"field":"c","type":"quantitative","title":"y [km]"},"y2":{"field":"d"}}}
]},
{"width":14,"height":226,"data":{"name":"bar"},
"layer":[
{"mark":{"type":"rect"},"encoding":{"y":{"field":"a","type":"quantitative","title":null,"scale":{"domain":[-1,1],"nice":false},"axis":{"values":[-1,0,1],"orient":"right","format":"d","labelFontSize":50,"labelPadding":8}},"y2":{"field":"b"},"color":{"field":"v","type":"nominal","legend":null,"scale":{"domain":[0,1,2,3,4,5,6,7,8,9,10],"range":["#5558a8","#3a7fbc","#4aa3b4","#6fc7a8","#9cd7a6","#c0e5a0","#def59a","#f2f9ad","#fffdb8","#fee495","#fdc97a"]}}}},
{"data":{"values":[{}]},"mark":{"type":"rect","filled":false,"stroke":"#000","strokeWidth":3.3},"encoding":{"y":{"datum":-1,"type":"quantitative"},"y2":{"datum":1}}}
]}
],"spacing":10}
],"spacing":11}
